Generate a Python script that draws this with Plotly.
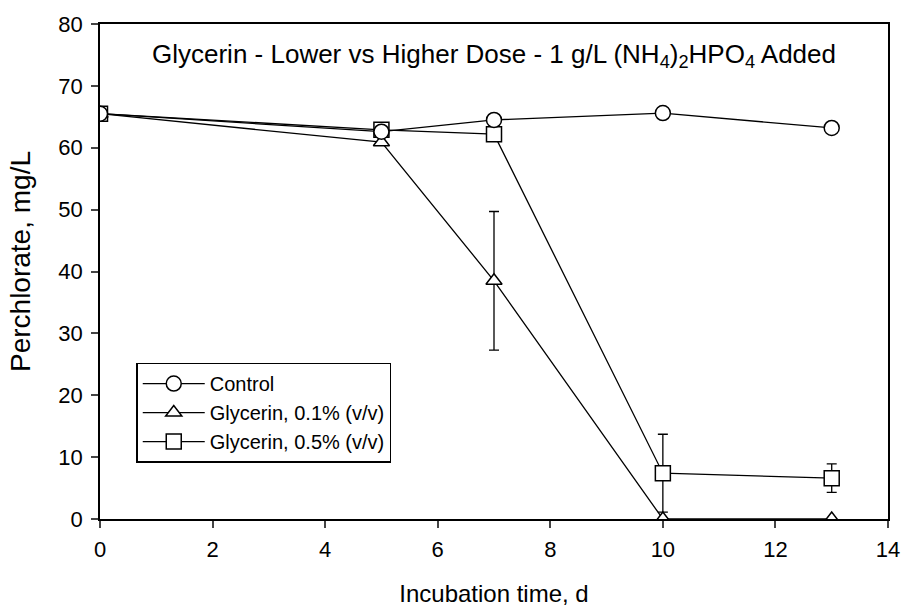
import plotly.graph_objects as go

days = [0, 5, 7, 10, 13]
control = [65.5, 62.6, 64.5, 65.6, 63.2]
gly01 = [65.5, 60.9, 38.5, 0.0, 0.0]
gly01_err = [0, 0, 11.2, 0, 0]
gly05 = [65.5, 62.9, 62.2, 7.4, 6.6]
gly05_err = [0, 0, 0, 6.3, 2.3]

names = ["Control", "Glycerin, 0.1% (v/v)", "Glycerin, 0.5% (v/v)"]
title_text = "Glycerin - Lower vs Higher Dose - 1 g/L (NH<sub>4</sub>)<sub>2</sub>HPO<sub>4</sub> Added"
x_title = "Incubation time, d"
y_title = "Perchlorate, mg/L"
font = "Liberation Sans, Arial, sans-serif"

fig = go.Figure()

def add(y, name, symbol, size, rank, err=None):
    kw = {}
    if err is not None:
        kw["error_y"] = dict(type="data", array=err, visible=True, color="black",
                             thickness=1.3, width=5)
    fig.add_trace(go.Scatter(
        x=days, y=y, name=name, mode="lines+markers", legendrank=rank,
        line=dict(color="black", width=1.3),
        marker=dict(symbol=symbol, size=size, color="white",
                    line=dict(color="black", width=1.5)),
        **kw))

add(gly01, names[1], "triangle-up", 14, 2, gly01_err)
add(gly05, names[2], "square", 15, 3, gly05_err)
add(control, names[0], "circle", 15, 1)

fig.update_layout(
    width=912, height=615,
    margin=dict(l=100, r=18, t=15, b=94),
    plot_bgcolor="white", paper_bgcolor="white",
    font=dict(family=font, color="black", size=20),
    showlegend=True,
    legend=dict(x=0.046, y=0.316, xanchor="left", yanchor="top",
                bordercolor="black", borderwidth=1.5, bgcolor="white",
                font=dict(size=20, family=font), tracegroupgap=0,
                itemwidth=62),
    annotations=[
        dict(text=title_text, x=0.5, y=0.937, xref="paper", yref="paper",
             xanchor="center", yanchor="middle", showarrow=False,
             font=dict(size=26, family=font)),
        dict(text=y_title, x=-0.101, y=0.52, xref="paper", yref="paper",
             xanchor="center", yanchor="middle", showarrow=False, textangle=-90,
             font=dict(size=28, family=font)),
    ],
)
fig.update_xaxes(range=[0, 14], dtick=2, showline=True, linecolor="black", linewidth=1.5,
                 mirror=True, ticks="outside", ticklen=7, tickwidth=1.5, showgrid=False,
                 zeroline=False, tickfont=dict(size=22), ticklabelstandoff=3,
                 title=dict(text=x_title, font=dict(size=24), standoff=24))
fig.update_yaxes(range=[0, 80], dtick=10, showline=True, linecolor="black", linewidth=1.5,
                 mirror=True, ticks="outside", ticklen=7, tickwidth=1.5, showgrid=False,
                 zeroline=False, tickfont=dict(size=22), ticklabelstandoff=4)

fig.write_html("out.html")
